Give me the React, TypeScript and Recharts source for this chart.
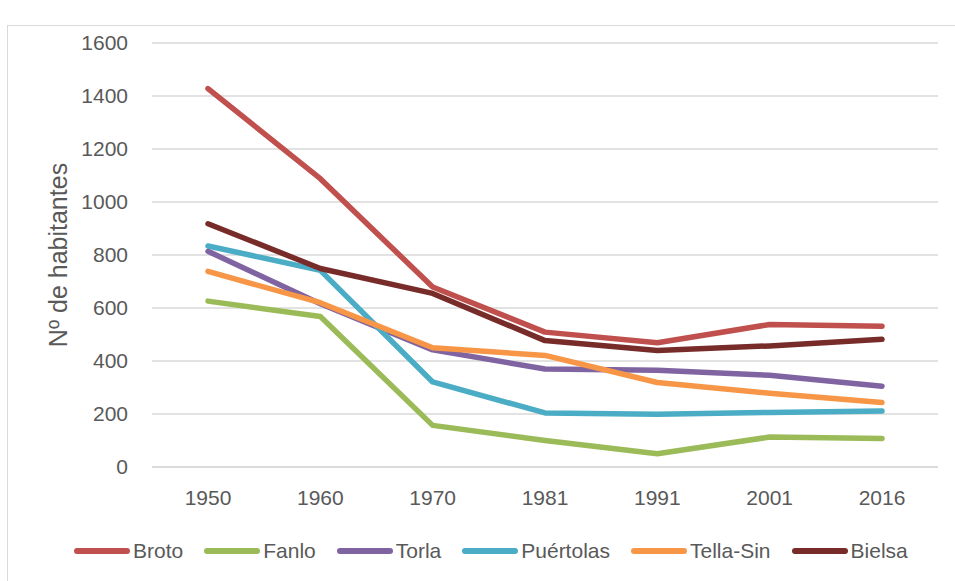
import { LineChart, Line, XAxis, YAxis, CartesianGrid, Legend, Label } from "recharts";

const years = ["1950", "1960", "1970", "1981", "1991", "2001", "2016"];
const broto = [1428, 1088, 679, 509, 469, 538, 531];
const fanlo = [626, 568, 157, 100, 50, 113, 108];
const torla = [814, 616, 442, 370, 365, 346, 305];
const puertolas = [834, 742, 321, 204, 199, 206, 211];
const tellaSin = [738, 620, 450, 421, 319, 278, 243];
const bielsa = [918, 749, 655, 477, 440, 457, 482];
const yTicks = [0, 200, 400, 600, 800, 1000, 1200, 1400, 1600];

const series = [
  { key: "Broto", values: broto, color: "#C0504D" },
  { key: "Fanlo", values: fanlo, color: "#9BBB59" },
  { key: "Torla", values: torla, color: "#8064A2" },
  { key: "Puértolas", values: puertolas, color: "#4BACC6" },
  { key: "Tella-Sin", values: tellaSin, color: "#F79646" },
  { key: "Bielsa", values: bielsa, color: "#772C2A" },
];

const data = years.map((year, i) => {
  const row: Record<string, string | number> = { year };
  series.forEach((s) => (row[s.key] = s.values[i]));
  return row;
});

const FONT = "'Liberation Sans', Arial, sans-serif";
const TEXT = "#595959";

function LegendContent() {
  return (
    <div style={{ display: "flex", alignItems: "center", height: 30, paddingLeft: 74, fontFamily: FONT, fontSize: 21, color: TEXT }}>
      {series.map((s) => (
        <div key={s.key} style={{ display: "flex", alignItems: "center", marginRight: 21 }}>
          <span style={{ display: "inline-block", width: 56, height: 6, borderRadius: 3, background: s.color, marginRight: 3 }} />
          <span>{s.key}</span>
        </div>
      ))}
    </div>
  );
}

export default function App() {
  return (
    <div style={{ position: "absolute", left: 0, top: 0, width: 955, height: 581, background: "#fff", overflow: "hidden" }}>
      <div style={{ position: "absolute", left: 7, top: 25, width: 960, height: 570, borderLeft: "1.5px solid #D9D9D9", borderTop: "1.5px solid #D9D9D9" }} />
      <LineChart width={955} height={581} data={data} margin={{ top: 43, right: 17, left: 0, bottom: 24 }}>
        <CartesianGrid vertical={false} stroke="#D9D9D9" strokeWidth={1.3} />
        <XAxis
          dataKey="year"
          height={60}
          padding={{ left: 56, right: 56 }}
          tickLine={false}
          tickSize={0}
          tickMargin={23}
          axisLine={{ stroke: "#D9D9D9", strokeWidth: 1.3 }}
          tick={{ fill: TEXT, fontSize: 21, fontFamily: FONT }}
        />
        <YAxis
          width={152}
          domain={[0, 1600]}
          ticks={yTicks}
          interval={0}
          axisLine={false}
          tickLine={false}
          tickSize={0}
          tickMargin={24}
          tick={{ fill: TEXT, fontSize: 21, fontFamily: FONT }}
        >
          <Label
            value="Nº de habitantes"
            angle={-90}
            position="insideLeft"
            offset={58}
            style={{ textAnchor: "middle", fill: TEXT, fontSize: 25, fontFamily: FONT }}
          />
        </YAxis>
        <Legend
          verticalAlign="bottom"
          content={<LegendContent />}
          wrapperStyle={{ top: 536, left: 0, width: 955, height: 30 }}
        />
        {series.map((s) => (
          <Line
            key={s.key}
            dataKey={s.key}
            stroke={s.color}
            strokeWidth={5.5}
            strokeLinecap="round"
            strokeLinejoin="round"
            dot={false}
            activeDot={false}
            isAnimationActive={false}
          />
        ))}
      </LineChart>
    </div>
  );
}
